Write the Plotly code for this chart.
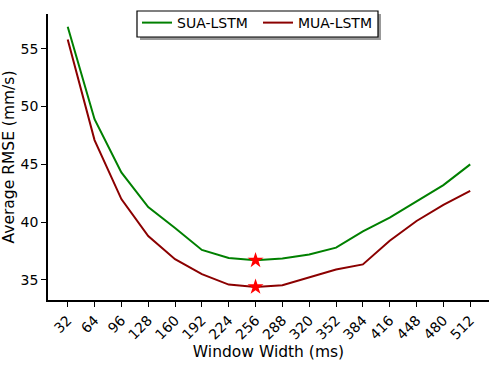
import plotly.graph_objects as go

window_ms = [32, 64, 96, 128, 160, 192, 224, 256, 288, 320, 352, 384, 416, 448, 480, 512]
sua_lstm = [56.9, 48.9, 44.3, 41.3, 39.5, 37.6, 36.9, 36.7, 36.85, 37.2, 37.8, 39.2, 40.4, 41.8, 43.2, 45.0]
mua_lstm = [55.8, 47.1, 42.0, 38.8, 36.8, 35.5, 34.6, 34.4, 34.55, 35.2, 35.9, 36.35, 38.4, 40.1, 41.5, 42.7]
best_ms = 256
best_sua = 36.7
best_mua = 34.4

fig = go.Figure()

fig.add_trace(go.Scatter(x=window_ms, y=sua_lstm, mode="lines", name="SUA-LSTM",
                         line=dict(color="green", width=2)))
fig.add_trace(go.Scatter(x=window_ms, y=mua_lstm, mode="lines", name="MUA-LSTM",
                         line=dict(color="#8b0000", width=2)))
fig.add_trace(go.Scatter(x=[best_ms, best_ms], y=[best_sua, best_mua], mode="markers",
                         marker=dict(symbol="star", color="red", size=12, line=dict(width=0)),
                         showlegend=False))

# legend frame + shadow drawn as shapes (plotly legend box is too tall)
fig.add_shape(type="rect", xref="paper", yref="paper",
              x0=0.2086, x1=0.7551, y0=0.9091, y1=1.0,
              fillcolor="#999999", line=dict(width=0), layer="above")
fig.add_shape(type="rect", xref="paper", yref="paper",
              x0=0.2018, x1=0.7483, y0=0.9196, y1=1.0105,
              fillcolor="white", line=dict(color="black", width=1.2), layer="above")

fig.update_layout(
    width=494, height=369,
    margin=dict(l=48, r=5, t=14, b=69, autoexpand=False),
    plot_bgcolor="white", paper_bgcolor="white",
    font=dict(family="DejaVu Sans", size=14, color="black"),
    legend=dict(orientation="h", x=0.2018, xanchor="left", y=0.9685, yanchor="middle",
                bgcolor="rgba(0,0,0,0)", borderwidth=0,
                font=dict(size=14), itemwidth=30, entrywidth=76, tracegroupgap=0),
)

fig.update_xaxes(
    range=[8.5, 534.4], tickvals=window_ms, tickangle=-45,
    showline=True, linecolor="black", linewidth=1.5, mirror=False,
    ticks="outside", ticklen=5, tickcolor="black", showgrid=False, zeroline=False,
    title=dict(text="Window Width (ms)", font=dict(size=15.5), standoff=5),
)
fig.update_yaxes(
    range=[33.27, 58.0], tickvals=[35, 40, 45, 50, 55],
    showline=True, linecolor="black", linewidth=1.5,
    ticks="outside", ticklen=5, tickcolor="black", showgrid=False, zeroline=False,
    title=dict(text="Average RMSE (mm/s)", font=dict(size=15.5), standoff=4),
)

# drop the default 8px body margin so the figure sits at the page corner
fig.write_html("out.html", config={"displayModeBar": False},
               post_script="document.body.style.margin='0';")
